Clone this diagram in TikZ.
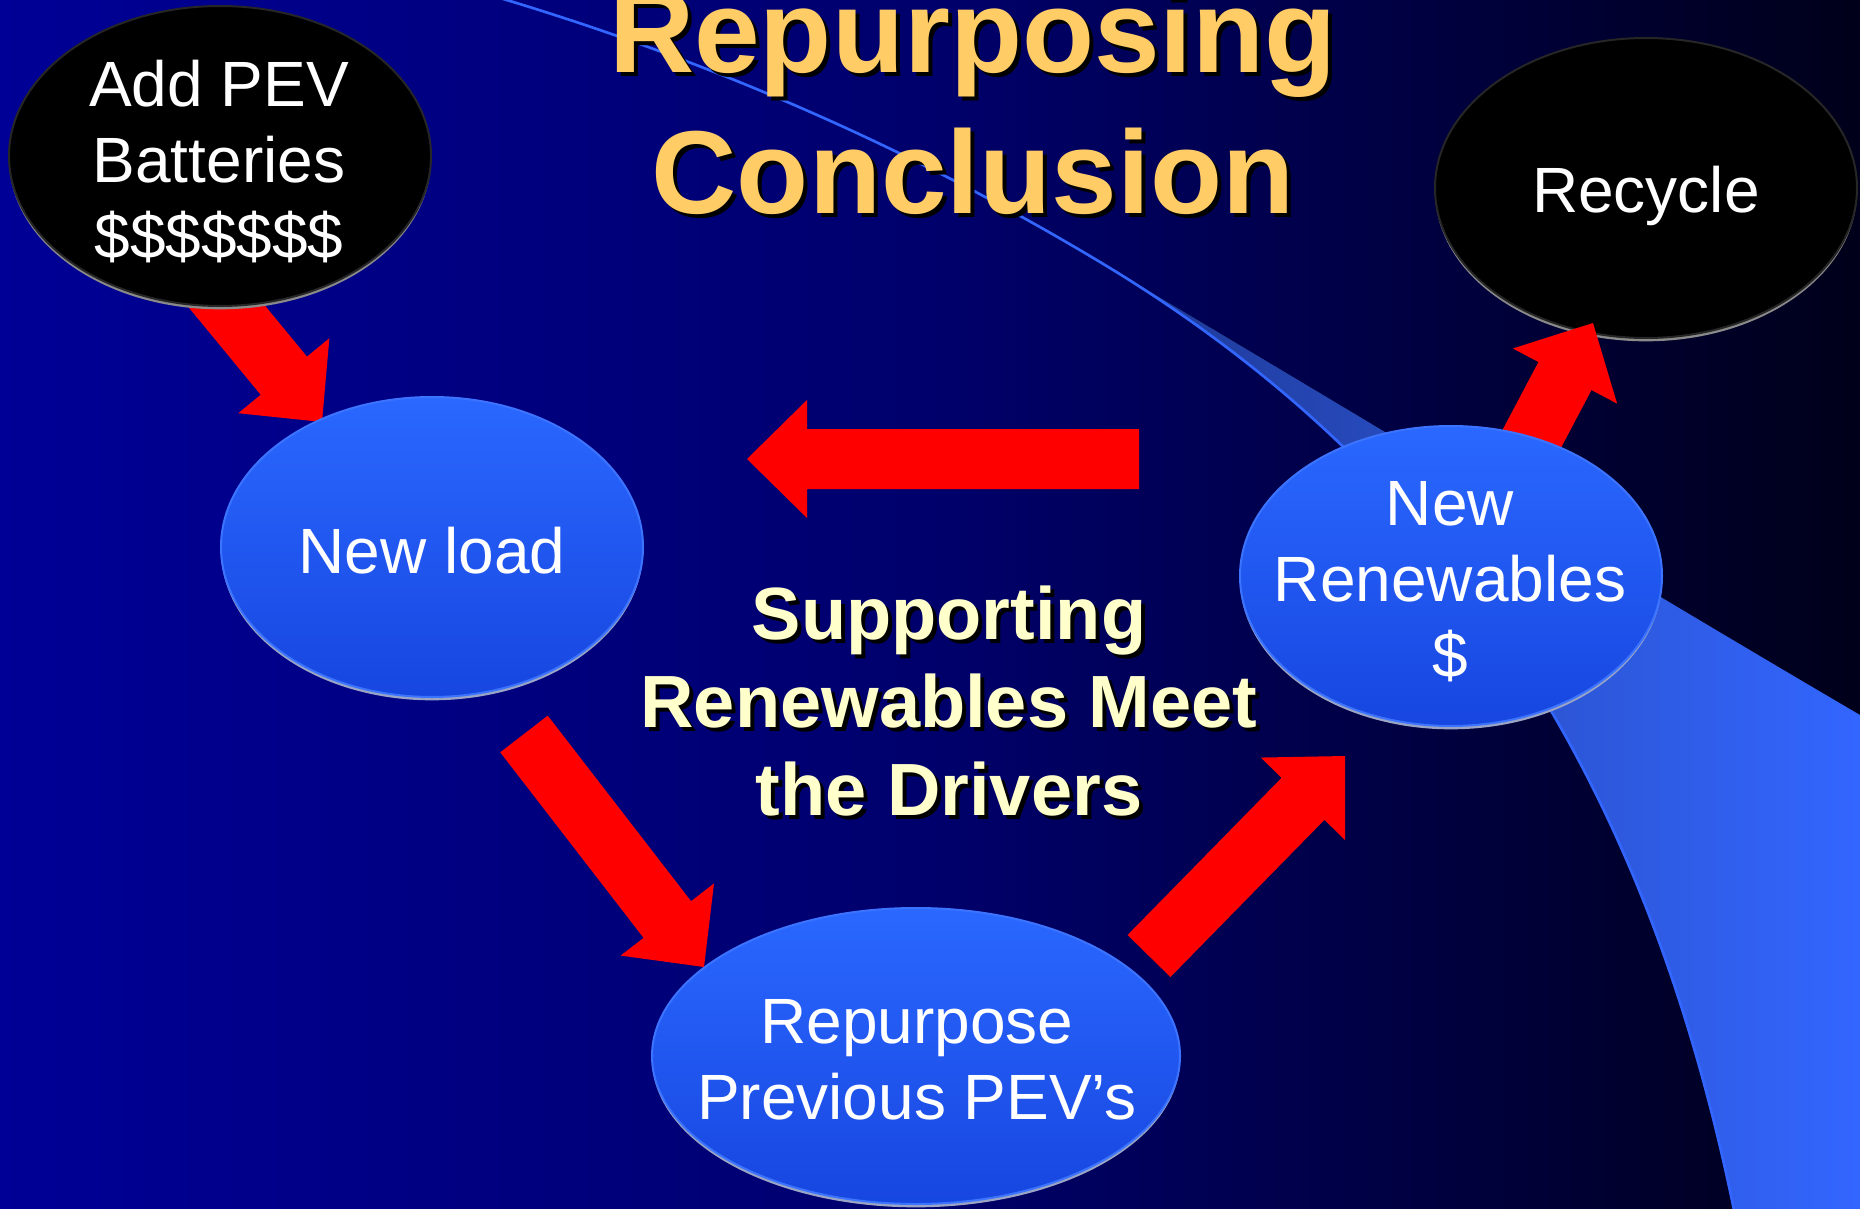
\documentclass[tikz,border=0pt]{standalone}
\usepackage{fontspec}
\setmainfont{Liberation Sans}
\usetikzlibrary{shapes.geometric,calc,shadows}

\definecolor{bgleft}{HTML}{000096}
\definecolor{bgmid}{HTML}{00006C}
\definecolor{bgright}{HTML}{00001A}
\definecolor{swooshblue}{HTML}{3366FF}
\definecolor{swooshmid}{HTML}{2B52CC}
\definecolor{swooshdark}{HTML}{1C3590}
\definecolor{arrowred}{HTML}{FF0000}
\definecolor{titlegold}{HTML}{FFCC66}
\definecolor{notecream}{HTML}{FFFFCC}
\definecolor{bubtop}{HTML}{2A68FF}
\definecolor{bubbot}{HTML}{1746E0}
\definecolor{bubedge}{HTML}{3C74FF}
\definecolor{bubrim}{HTML}{9AA4C4}
\definecolor{blackrim}{HTML}{8A8A8A}

% block arrow from tail #1 to tip #2 (shaft 60px, head 118px wide, 60px long)
\newcommand\blockarrow[2]{%
  \coordinate (hb) at ($(#2)!45pt!(#1)$);
  \fill[arrowbody] ($(#1)!22.5pt!90:(#2)$) -- ($(hb)!22.5pt!90:(#2)$)
    -- ($(hb)!44.25pt!90:(#2)$) -- (#2) -- ($(hb)!44.25pt!-90:(#2)$)
    -- ($(hb)!22.5pt!-90:(#2)$) -- ($(#1)!22.5pt!-90:(#2)$) -- cycle;}

\begin{document}
\begin{tikzpicture}[x=0.75pt,y=-0.75pt,
  arrowbody/.style={fill=arrowred},
  bubble/.style={ellipse, inner sep=0pt, minimum width=316.5pt, minimum height=225pt},
  bluebub/.style={bubble, top color=bubtop, bottom color=bubbot, draw=bubedge, line width=1.5pt,
    drop shadow={shadow xshift=0pt, shadow yshift=-2.5pt, fill=bubrim, opacity=1}},
  blackbub/.style={bubble, fill=black, draw=black!85!white, line width=1.5pt,
    drop shadow={shadow xshift=0pt, shadow yshift=-2.5pt, fill=blackrim, opacity=1}},
  bubtext/.style={text=white, align=center, inner sep=0pt, font=\fontsize{48}{57}\selectfont},
  titletext/.style={align=center, inner sep=0pt, font=\bfseries\fontsize{88.5}{105.75}\selectfont},
  notetext/.style={align=center, inner sep=0pt, font=\bfseries\fontsize{55.5}{66}\selectfont},
  swooshline/.style={draw=swooshblue, line width=2pt}
]
\useasboundingbox (0,0) rectangle (1860,1209);
\clip (0,0) rectangle (1860,1209);

% background
\fill[left color=bgleft, right color=bgright, middle color=bgmid] (0,0) rectangle (1860,1209);

% swoosh band and its thin leading line
\fill[left color=swooshdark, right color=swooshblue, middle color=swooshmid]
  (1100,262) .. controls (1400,440) and (1650,592) .. (1860,715)
  -- (1860,1215) -- (1735,1215)
  .. controls (1655,821) and (1480,490) .. (1100,262) -- cycle;
\draw[swooshline] (500,-2) .. controls (700,58) and (900,142) .. (1100,262)
  .. controls (1480,490) and (1655,821) .. (1735,1215);

% arrow ends
\coordinate (a1s) at (205,280);  \coordinate (a1e) at (322,422);
\coordinate (a2s) at (1139,459); \coordinate (a2e) at (747,459);
\coordinate (a3s) at (524,734);  \coordinate (a3e) at (704,967);
\coordinate (a4s) at (1149,956); \coordinate (a4e) at (1345,756);
\coordinate (a5s) at (1510,480); \coordinate (a5e) at (1593,323);

\blockarrow{a1s}{a1e}

% black bubbles
\node[blackbub] (addpev) at (220,156) {};
\node[blackbub] (recycle) at (1646,188) {};

\blockarrow{a5s}{a5e}

% blue bubbles
\node[bluebub] (newren) at (1451,576) {};
\node[bluebub] (newload) at (432,547) {};
\node[bluebub, minimum width=396pt, minimum height=222pt] (repurpose) at (916,1056) {};

\blockarrow{a2s}{a2e}
\blockarrow{a3s}{a3e}
\blockarrow{a4s}{a4e}

% bubble labels
\node[bubtext] (addpev-txt) at (219,162) {Add PEV\\Batteries\\\$\$\$\$\$\$\$};
\node[bubtext, anchor=base] (recycle-txt) at (1646,213) {Recycle};
\node[bubtext, anchor=base] (newload-txt) at (432,573) {New load};
\node[bubtext] (newren-txt) at (1450,582) {New\\Renewables\\\$};
\node[bubtext] (repurpose-txt) at (917,1060) {Repurpose\\Previous PEV’s};

% title with drop shadow
\node[titletext, text=black] (title-shadow) at (977,105) {Repurposing\\Conclusion};
\node[titletext, text=titlegold] (title) at (973,101) {Repurposing\\Conclusion};

% central note with drop shadow
\node[notetext, text=black] (note-shadow) at (953,705) {Supporting\\Renewables Meet\\the Drivers};
\node[notetext, text=notecream] (note) at (949,701) {Supporting\\Renewables Meet\\the Drivers};
\end{tikzpicture}
\end{document}
